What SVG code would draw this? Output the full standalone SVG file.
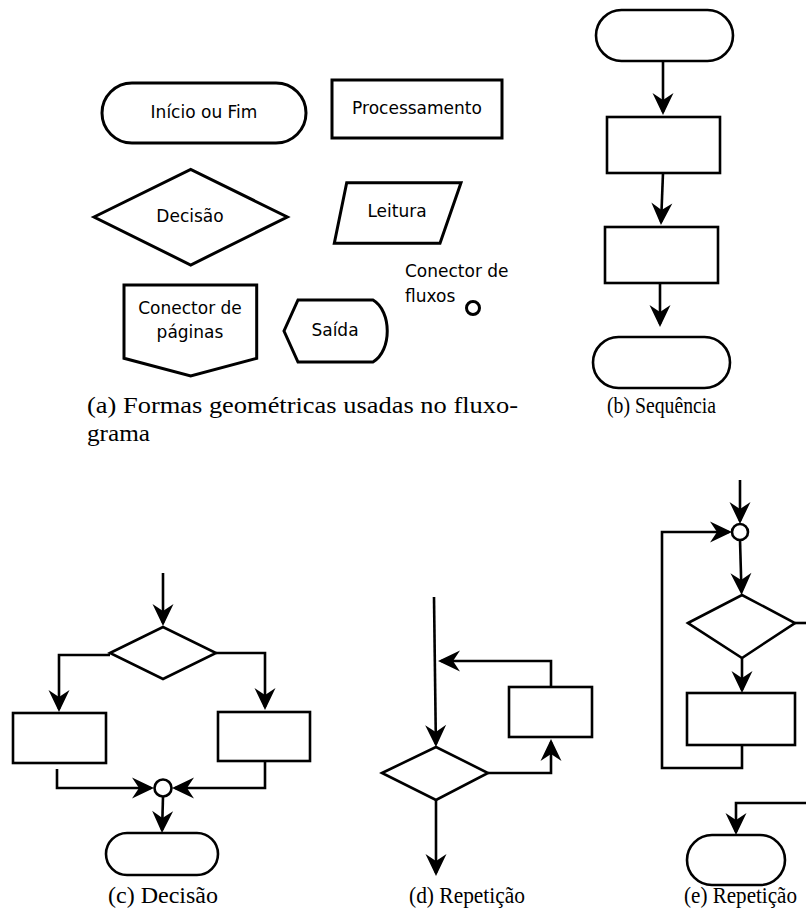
<svg xmlns="http://www.w3.org/2000/svg" width="806" height="920" viewBox="0 0 806 920">
<style>
.s{fill:#fff;stroke:#000;stroke-width:3;stroke-linejoin:miter}
.f{fill:#fff;stroke:#000;stroke-width:2.6}
.c{fill:none;stroke:#000;stroke-width:2.6}
.t{font-family:"DejaVu Sans",sans-serif;font-size:17px;fill:#000}
.m{text-anchor:middle}
.cap{font-family:"Liberation Serif","Times New Roman",serif;font-size:23px;fill:#000}
</style>
<defs>
<marker id="ah" viewBox="-20 -12 24 24" refX="0" refY="0" markerWidth="24" markerHeight="24" orient="auto" markerUnits="userSpaceOnUse">
<path d="M3,0 L-19,-10.5 L-12,0 L-19,10.5 Z" fill="#000"/>
</marker>
</defs>
<rect width="806" height="920" fill="#fff"/>

<!-- (a) shapes -->
<g id="a-inicio"><rect class="s" x="102" y="83" width="204" height="60" rx="30"/><text class="t m" x="204" y="118">Início ou Fim</text></g>
<g id="a-proc"><rect class="s" x="332" y="80" width="170" height="58"/><text class="t m" x="417" y="114">Processamento</text></g>
<g id="a-decisao"><polygon class="s" points="94,217 190.7,169.3 287.3,217 190.7,265"/><text class="t m" x="190" y="222">Decisão</text></g>
<g id="a-leitura"><polygon class="s" points="346.7,182.7 461,182.7 440,243.3 334.3,243.3"/><text class="t m" x="397" y="217">Leitura</text></g>
<g id="a-conpag"><polygon class="s" points="124,285 256.7,285 256.7,358.3 190.7,376 124,358.3"/><text class="t m" x="190" y="314">Conector de</text><text class="t m" x="190" y="338">páginas</text></g>
<g id="a-saida"><path class="s" d="M298,300 L373,300 C392,311 392,351 373,362 L298,362 L284,331 Z"/><text class="t m" x="335" y="336">Saída</text></g>
<g id="a-confluxo"><text class="t" x="405" y="277">Conector de</text><text class="t" x="405" y="302">fluxos</text><circle class="s" cx="473" cy="308" r="6.5"/></g>
<text class="cap" x="87" y="413" textLength="431" lengthAdjust="spacingAndGlyphs">(a) Formas geométricas usadas no fluxo-</text>
<text class="cap" x="87" y="441" textLength="63" lengthAdjust="spacingAndGlyphs">grama</text>

<!-- (b) sequence -->
<g id="b-ini"><rect class="f" x="596" y="10" width="137" height="51" rx="25.5"/></g>
<g id="b-p1"><rect class="f" x="607" y="117" width="113" height="56"/></g>
<g id="b-p2"><rect class="f" x="605" y="227" width="113" height="56"/></g>
<g id="b-fim"><rect class="f" x="593" y="337" width="137" height="51" rx="25.5"/></g>
<g id="b-conn">
<path class="c" d="M663,61 L663,112" marker-end="url(#ah)"/>
<path class="c" d="M663,173 L661.1,222" marker-end="url(#ah)"/>
<path class="c" d="M660,283 L660,324" marker-end="url(#ah)"/>
</g>
<text class="cap" x="607" y="413" textLength="109" lengthAdjust="spacingAndGlyphs">(b) Sequência</text>

<!-- (c) decision -->
<g id="c-dec"><polygon class="f" points="110,653 163,627 216,653 163,679"/></g>
<g id="c-p1"><rect class="f" x="13" y="713" width="93" height="50"/></g>
<g id="c-p2"><rect class="f" x="218" y="712" width="92" height="49"/></g>
<g id="c-con"><circle class="f" cx="163" cy="788" r="8.5"/></g>
<g id="c-fim"><rect class="f" x="106" y="833" width="112" height="42" rx="21"/></g>
<g id="c-conn">
<path class="c" d="M163,573 L163,623" marker-end="url(#ah)"/>
<path class="c" d="M110,655 L59,655 L59,709" marker-end="url(#ah)"/>
<path class="c" d="M216,653 L265,653 L265,707" marker-end="url(#ah)"/>
<path class="c" d="M57,769 L57,788 L151,788" marker-end="url(#ah)"/>
<path class="c" d="M265,761 L265,788 L175,788" marker-end="url(#ah)"/>
<path class="c" d="M163,796.5 L162.1,830" marker-end="url(#ah)"/>
</g>
<text class="cap" x="108" y="903" textLength="110" lengthAdjust="spacingAndGlyphs">(c) Decisão</text>

<!-- (d) repetition -->
<g id="d-dec"><polygon class="f" points="382,773 436,747 488,773 436,800"/></g>
<g id="d-p"><rect class="f" x="509" y="687" width="83" height="50"/></g>
<g id="d-conn">
<path class="c" d="M434,597 L435.9,744" marker-end="url(#ah)"/>
<path class="c" d="M488,773 L551,773 L551,742" marker-end="url(#ah)"/>
<path class="c" d="M551,687 L551,661 L441,661" marker-end="url(#ah)"/>
<path class="c" d="M436,800 L436,873" marker-end="url(#ah)"/>
</g>
<text class="cap" x="409" y="903" textLength="116" lengthAdjust="spacingAndGlyphs">(d) Repetição</text>

<!-- (e) repetition -->
<g id="e-con"><circle class="f" cx="740" cy="532" r="8"/></g>
<g id="e-dec"><polygon class="f" points="688,623 742,595 795,623 742,658"/></g>
<g id="e-p"><rect class="f" x="687" y="693" width="108" height="52"/></g>
<g id="e-fim"><rect class="f" x="687" y="835" width="98" height="50" rx="25"/></g>
<g id="e-conn">
<path class="c" d="M740,480 L740,521" marker-end="url(#ah)"/>
<path class="c" d="M742,745 L742,768 L662,768 L662,532 L729,532" marker-end="url(#ah)"/>
<path class="c" d="M740,540 L741.5,592" marker-end="url(#ah)"/>
<path class="c" d="M795,623 L808,623"/>
<path class="c" d="M742,658 L742,690" marker-end="url(#ah)"/>
<path class="c" d="M808,803 L736,803 L736,832" marker-end="url(#ah)"/>
</g>
<text class="cap" x="684" y="903" font-size="22" textLength="113" lengthAdjust="spacingAndGlyphs">(e) Repetição</text>
</svg>
